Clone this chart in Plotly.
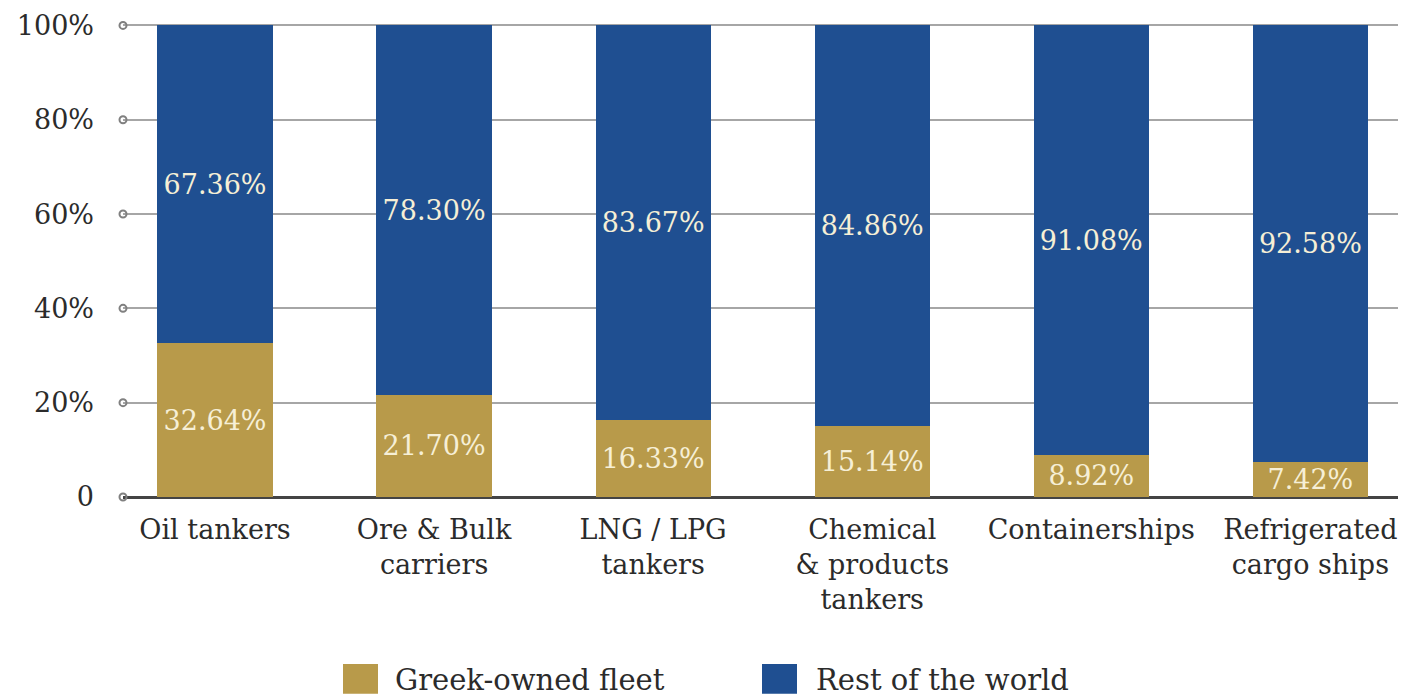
import plotly.graph_objects as go

categories = [
    "Oil tankers",
    "Ore & Bulk<br>carriers",
    "LNG / LPG<br>tankers",
    "Chemical<br>& products<br>tankers",
    "Containerships",
    "Refrigerated<br>cargo ships",
]
greek_share = [32.64, 21.70, 16.33, 15.14, 8.92, 7.42]
rest_share = [67.36, 78.30, 83.67, 84.86, 91.08, 92.58]
y_ticks = [0, 20, 40, 60, 80, 100]
y_tick_text = ["0", "20%", "40%", "60%", "80%", "100%"]
series_names = ["Greek-owned fleet", "Rest of the world"]

GOLD = "#b89a4a"
BLUE = "#1f4f91"
LABEL = "#f6efd6"
TEXT = "#2b2b2b"
FONT = "DejaVu Serif"

x = list(range(len(categories)))
x_left, x_right = -0.42, 5.40

# pixel geometry of the plot area, used to place the hand-drawn legend
PLOT_L, PLOT_W, PLOT_B, PLOT_H = 123, 1275, 497, 476


def px_x(p):
    return (p - PLOT_L) / PLOT_W


def px_y(p):
    return (PLOT_B - p) / PLOT_H


fig = go.Figure()
for vals, name, color in [(greek_share, series_names[0], GOLD), (rest_share, series_names[1], BLUE)]:
    fig.add_trace(go.Bar(
        x=x, y=vals, name=name, marker=dict(color=color, line=dict(width=0)),
        text=[f"{v:.2f}%" for v in vals], textposition="inside",
        insidetextanchor="middle", constraintext="none",
        textfont=dict(family=FONT, size=27, color=LABEL),
        showlegend=False,
    ))

# hollow circles at the start of each gridline
fig.add_trace(go.Scatter(
    x=[x_left] * len(y_ticks), y=y_ticks, mode="markers", cliponaxis=False,
    marker=dict(symbol="circle-open", size=7, color="#808080", line=dict(width=2)),
    showlegend=False, hoverinfo="skip",
))

# legend drawn as swatches with captions below the plot
legend_items = [(series_names[0], GOLD, 343, 393), (series_names[1], BLUE, 762, 814)]
for name, color, sx, tx in legend_items:
    fig.add_shape(type="rect", xref="paper", yref="paper",
                  x0=px_x(sx), x1=px_x(sx + 35),
                  y0=px_y(695), y1=px_y(665),
                  fillcolor=color, line=dict(width=0))
    fig.add_annotation(xref="paper", yref="paper", x=px_x(tx),
                       y=px_y(681), xanchor="left", yanchor="middle",
                       text=name, showarrow=False,
                       font=dict(family=FONT, size=29, color=TEXT))

fig.update_layout(
    width=1408, height=699,
    margin=dict(l=PLOT_L, r=1408 - PLOT_L - PLOT_W, t=21, b=699 - PLOT_B),
    barmode="stack", bargap=0.474,
    plot_bgcolor="white", paper_bgcolor="white",
    font=dict(family=FONT, color=TEXT),
    xaxis=dict(
        range=[x_left, x_right], tickmode="array", tickvals=x, ticktext=categories,
        showgrid=False, zeroline=False, showline=False, ticks="",
        ticklabelstandoff=14,
        tickfont=dict(family=FONT, size=27, color=TEXT),
    ),
    yaxis=dict(
        range=[0, 100.3], tickmode="array", tickvals=y_ticks, ticktext=y_tick_text,
        showgrid=True, gridcolor="#a6a6a6", gridwidth=1.5,
        zeroline=True, zerolinecolor="#444444", zerolinewidth=2.5,
        showline=False, ticks="", ticklabelstandoff=28,
        tickfont=dict(family=FONT, size=27, color=TEXT),
    ),
)

fig.write_html("out.html")
